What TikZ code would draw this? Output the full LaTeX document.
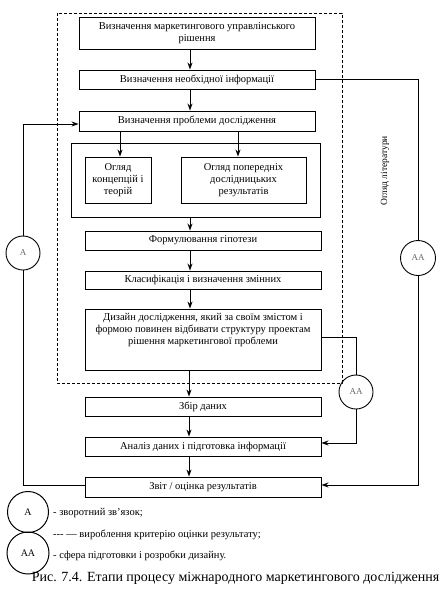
\documentclass[tikz,border=0pt]{standalone}
\usepackage{fontspec}
\setmainfont{Liberation Serif}
\usetikzlibrary{arrows.meta}
\begin{document}
\begin{tikzpicture}[x=1pt,y=-1pt,
  box/.style={draw, line width=0.9pt, inner sep=0pt, align=center, font=\fontsize{10.5}{12}\selectfont},
  arr/.style={line width=0.9pt, -{Stealth[length=7pt,width=5pt]}},
  ln/.style={line width=0.9pt},
  circ/.style={draw, circle, line width=0.9pt, inner sep=0pt, text=black!60, font=\fontsize{9}{10}\selectfont},
  lgc/.style={draw, circle, line width=1pt, inner sep=0pt, font=\fontsize{10}{11}\selectfont},
  lgt/.style={anchor=west, inner sep=0pt, font=\fontsize{10.5}{11}\selectfont}]
\useasboundingbox (0,0) rectangle (443,600);
% dashed frame
\draw[line width=0.9pt, dash pattern=on 3pt off 2pt] (57,13) rectangle (342,383);
% boxes
\node[box, minimum width=236pt, minimum height=32pt] (b1) at (197,33) {Визначення маркетингового управлінського\\рішення};
\node[box, minimum width=236pt, minimum height=19pt] (b2) at (197,79.5) {Визначення необхідної інформації};
\node[box, minimum width=236pt, minimum height=20pt] (b3) at (197,121) {Визначення проблеми дослідження};
\node[draw, line width=0.9pt, minimum width=249pt, minimum height=74pt, inner sep=0pt] (cont) at (195.5,180) {};
\node[box, minimum width=66pt, minimum height=46pt] (i1) at (118,180) {Огляд\\концепцій і\\теорій};
\node[box, minimum width=125pt, minimum height=46pt] (i2) at (243.5,180) {Огляд попередніх\\дослідницьких\\результатів};
\node[box, minimum width=236pt, minimum height=19pt] (f) at (203,240.5) {Формулювання гіпотези};
\node[box, minimum width=236pt, minimum height=18pt] (k) at (203,280) {Класифікація і визначення змінних};
\node[box, minimum width=236pt, minimum height=61pt] (d) at (203,339.5) {\parbox[c][61pt][t]{236pt}{\centering\vspace{4pt}Дизайн дослідження, який за своїм змістом і\\формою повинен відбивати структуру проектам\\рішення маркетингової проблеми}};
\node[box, minimum width=236pt, minimum height=19pt] (z) at (203,406.5) {Збір даних};
\node[box, minimum width=236pt, minimum height=19pt] (an) at (203,446.5) {Аналіз даних і підготовка інформації};
\node[box, minimum width=236pt, minimum height=20pt] (zv) at (203,487) {Звіт / оцінка результатів};
% helper coordinates
\coordinate (ax) at (190,0);
\coordinate (ax2) at (189,0);
\coordinate (p1) at (120,0);
\coordinate (p2) at (238,0);
% vertical arrows
\draw[arr] (b1.south -| ax) -- (b2.north -| ax);
\draw[arr] (b2.south -| ax) -- (b3.north -| ax);
\draw[arr] (b3.south -| p1) -- (i1.north -| p1);
\draw[arr] (b3.south -| p2) -- (i2.north -| p2);
\draw[arr] (cont.south -| ax) -- (f.north -| ax);
\draw[arr] (f.south -| ax) -- (k.north -| ax);
\draw[arr] (k.south -| ax) -- (d.north -| ax);
\draw[arr] (d.south -| ax2) -- (z.north -| ax2);
\draw[arr] (z.south -| ax2) -- (an.north -| ax2);
\draw[arr] (an.south -| ax2) -- (zv.north -| ax2);
% right literature loop
\node[circ, minimum size=35pt] (aa1) at (418,258) {АА};
\coordinate (r1) at (418,79.5);
\coordinate (r2) at (418,485);
\draw[ln] (b2.east) -- (r1) -- (aa1.north);
\draw[arr] (aa1.south) -- (r2) -- (zv.east |- r2);
\node[rotate=90, inner sep=0pt, font=\fontsize{9.5}{10}\selectfont] (lit) at (385,171) {Огляд літератури};
% small AA loop
\node[circ, minimum size=34pt] (aa2) at (356,392) {АА};
\coordinate (s1) at (356,337);
\coordinate (s2) at (356,443);
\draw[ln] (d.east |- s1) -- (s1) -- (aa2.north);
\draw[arr] (aa2.south) -- (s2) -- (an.east |- s2);
% left feedback loop
\node[circ, minimum size=34pt] (a1) at (23,253) {А};
\coordinate (l1) at (23,485);
\coordinate (l2) at (23,124);
\draw[ln] (zv.west |- l1) -- (l1) -- (a1.south);
\draw[arr] (a1.north) -- (l2) -- (b3.west |- l2);
% legend
\node[lgc, minimum size=41pt] (la) at (28,512) {А};
\node[lgc, minimum size=42pt] (laa) at (28,553) {АА};
\node[lgt] (t1) at (53,513) {- зворотний зв’язок;};
\node[lgt] (t2) at (53,535) {{-}{-}{-} — вироблення критерію оцінки результату;};
\node[lgt] (t3) at (53,556) {- сфера підготовки і розробки дизайну.};
\node[inner sep=0pt, font=\fontsize{14}{16}\selectfont] (cap) at (235.5,578) {Рис. 7.4. Етапи процесу міжнародного маркетингового дослідження};
\end{tikzpicture}
\end{document}
